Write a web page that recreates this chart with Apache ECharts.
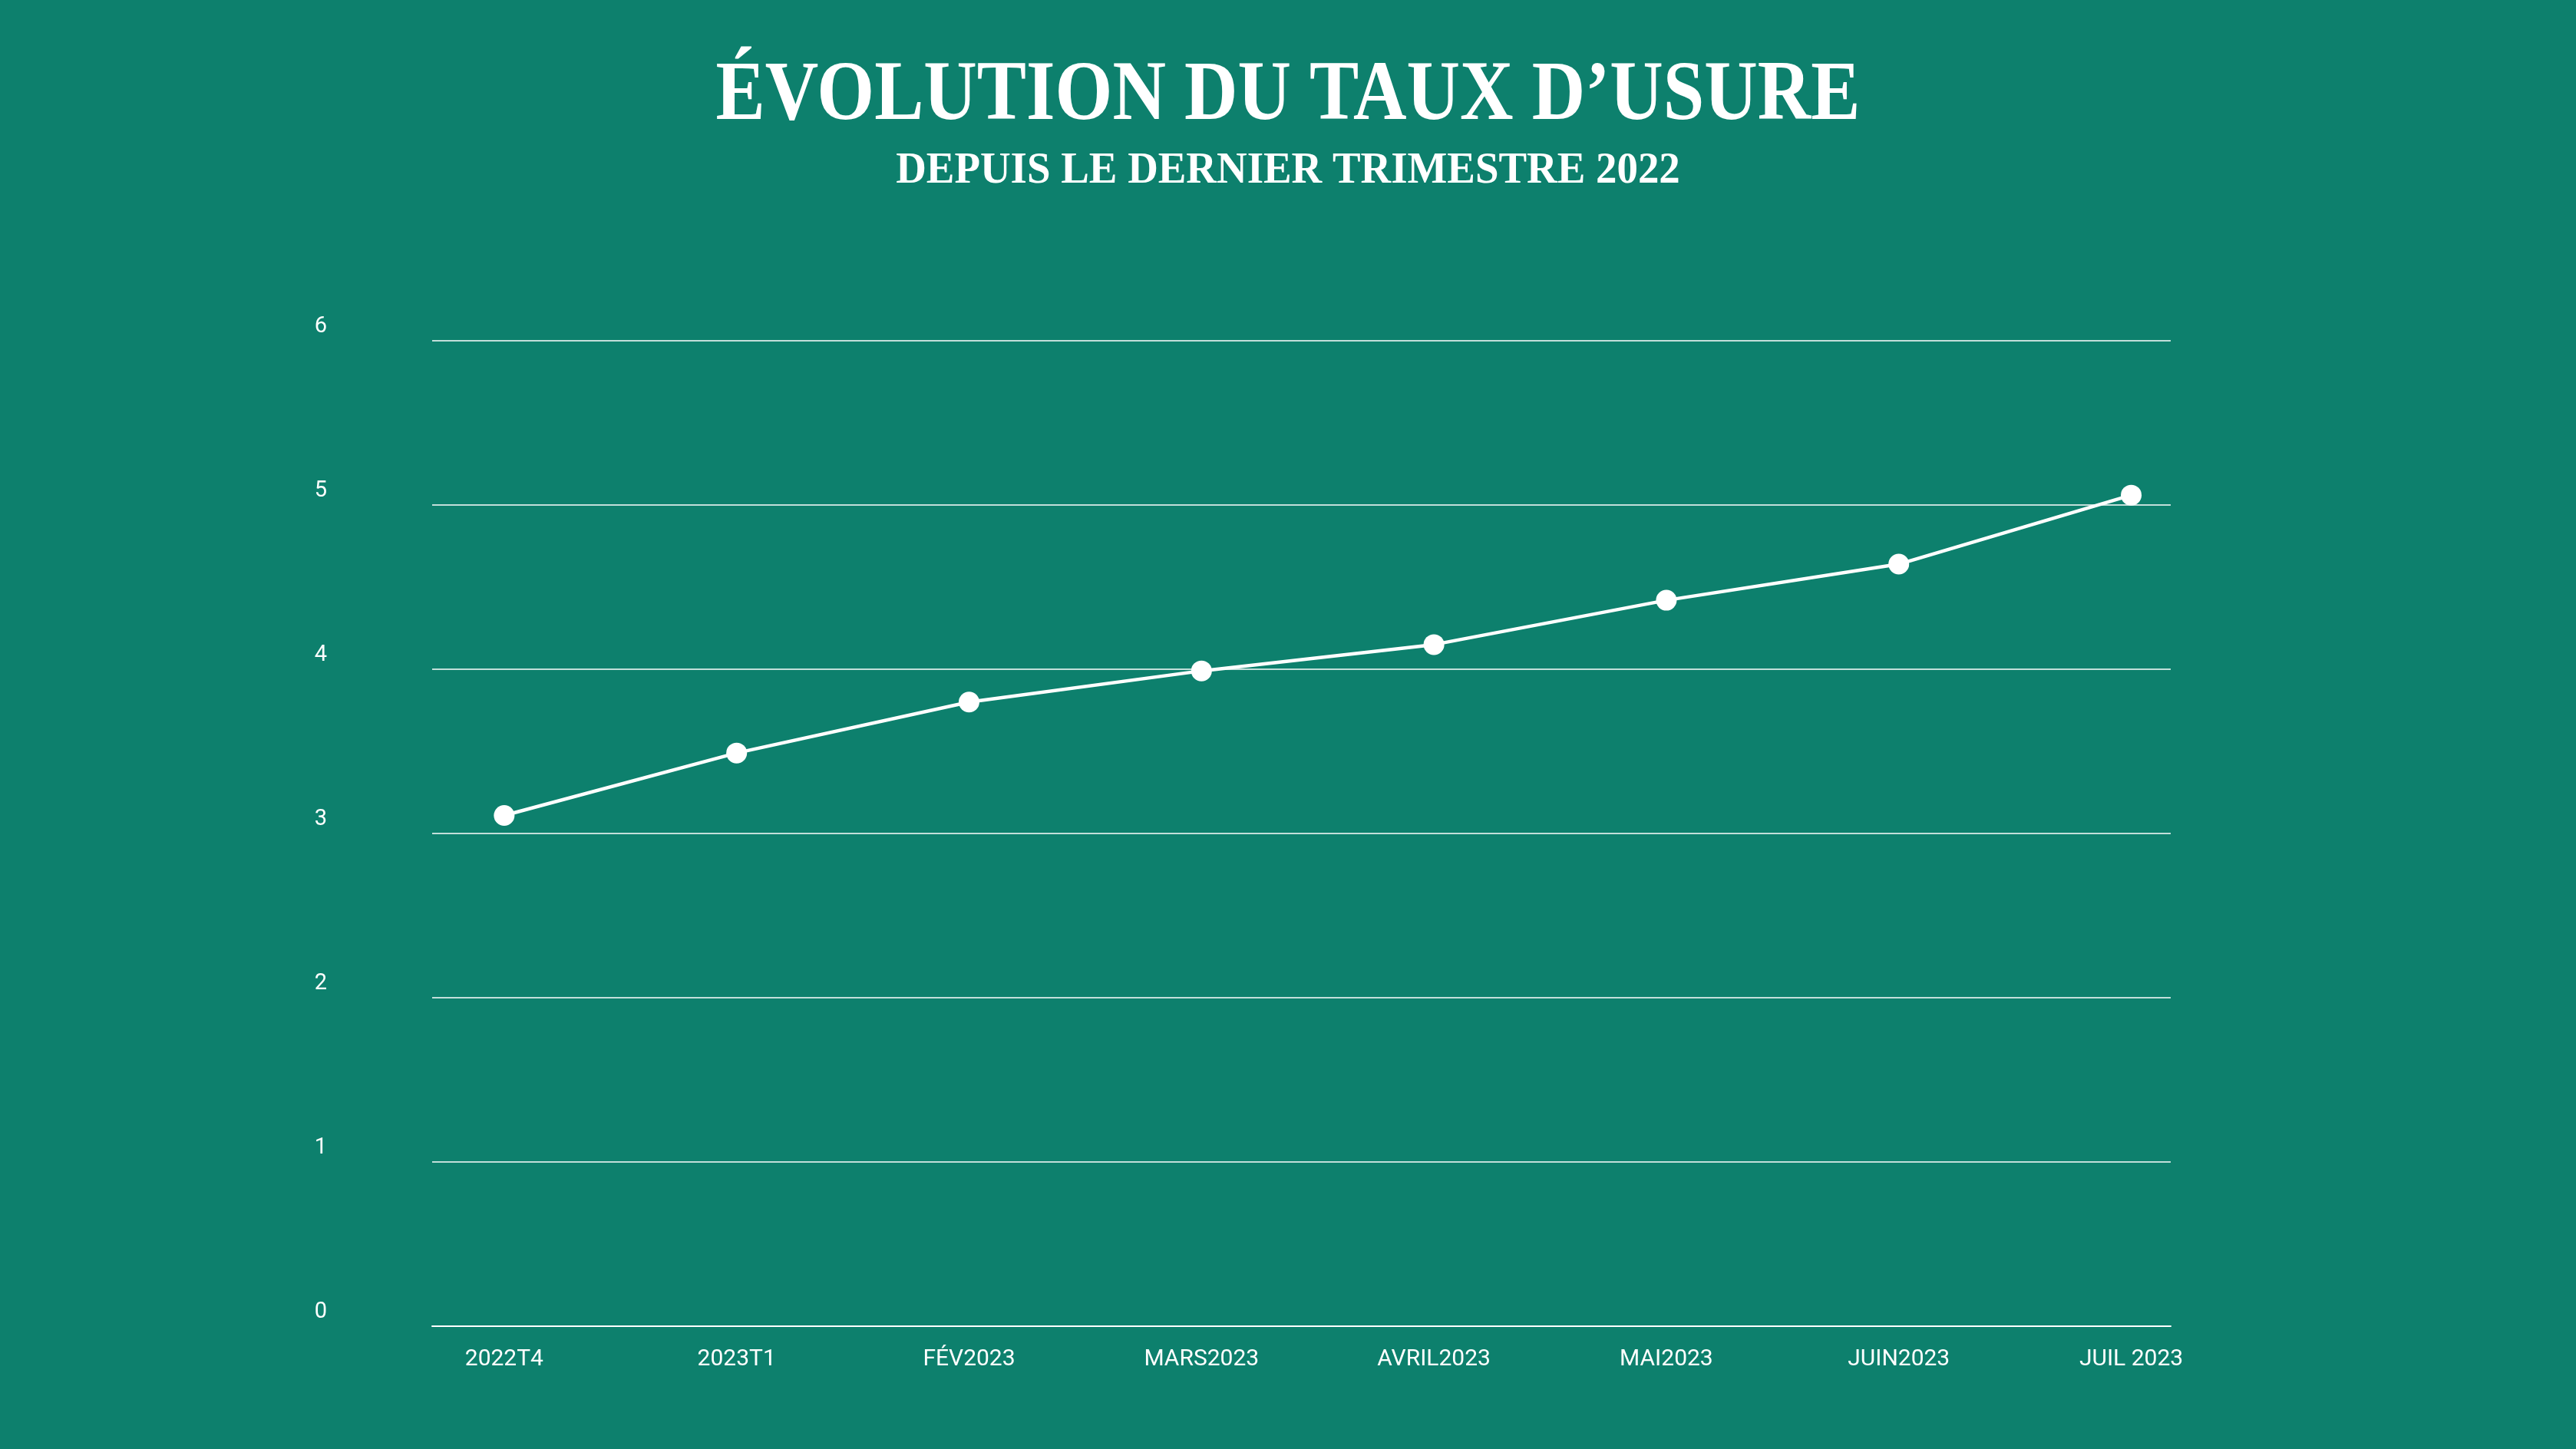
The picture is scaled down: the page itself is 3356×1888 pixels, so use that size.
<!DOCTYPE html>
<html><head><meta charset="utf-8">
<script src="https://cdn.jsdelivr.net/npm/echarts@6/dist/echarts.min.js"></script>
<style>html,body{margin:0;padding:0;background:#0d806d;} #c{width:3356px;height:1888px;}</style>
</head><body><div id="c"></div>
<script>
const titleText = 'ÉVOLUTION DU TAUX D’USURE';
const subtitleText = 'DEPUIS LE DERNIER TRIMESTRE 2022';
const categories = ['2022T4', '2023T1', 'FÉV2023', 'MARS2023', 'AVRIL2023', 'MAI2023', 'JUIN2023', 'JUIL 2023'];
const rates = [3.11, 3.49, 3.80, 3.99, 4.15, 4.42, 4.64, 5.06];
const yMin = 0, yMax = 6, yStep = 1;

const chart = echarts.init(document.getElementById('c'), null, {renderer: 'canvas'});
const option = {
  backgroundColor: '#0d806d',
  animation: false,
  graphic: [
    {type: 'text', x: 1678, y: 127, scaleX: 0.875, style: {text: titleText, font: 'bold 110px "Liberation Serif"', fill: '#ffffff', align: 'center', verticalAlign: 'middle'}},
    {type: 'text', x: 1678, y: 224, scaleX: 0.98, style: {text: subtitleText, font: 'bold 56px "Liberation Serif"', fill: '#ffffff', align: 'center', verticalAlign: 'middle'}}
  ],
  grid: {left: 563, right: 528, top: 444, bottom: 160},
  xAxis: {
    type: 'value', min: -0.31, max: 7.17,
    axisLine: {show: true, onZero: false, lineStyle: {color: '#ffffff', width: 2}},
    axisTick: {show: false},
    splitLine: {show: false},
    axisLabel: {
      customValues: categories.map((c, i) => i),
      formatter: v => categories[Math.round(v)] || '',
      color: '#ffffff', fontFamily: 'Roboto', fontSize: 30, margin: 28
    }
  },
  yAxis: {
    type: 'value', min: yMin, max: yMax, interval: yStep,
    axisLine: {show: false}, axisTick: {show: false},
    splitLine: {show: true, lineStyle: {color: 'rgba(255,255,255,0.75)', width: 2}},
    axisLabel: {color: '#ffffff', fontFamily: 'Roboto', fontSize: 29, margin: 137, verticalAlign: 'bottom', lineHeight: 29, padding: [0, 0, 4, 0]}
  },
  series: [{
    type: 'line',
    data: rates.map((v, i) => [i, v]),
    symbol: 'circle', symbolSize: 27,
    lineStyle: {color: '#ffffff', width: 4.5},
    itemStyle: {color: '#ffffff'}
  }]
};
chart.setOption(option);
</script></body></html>
